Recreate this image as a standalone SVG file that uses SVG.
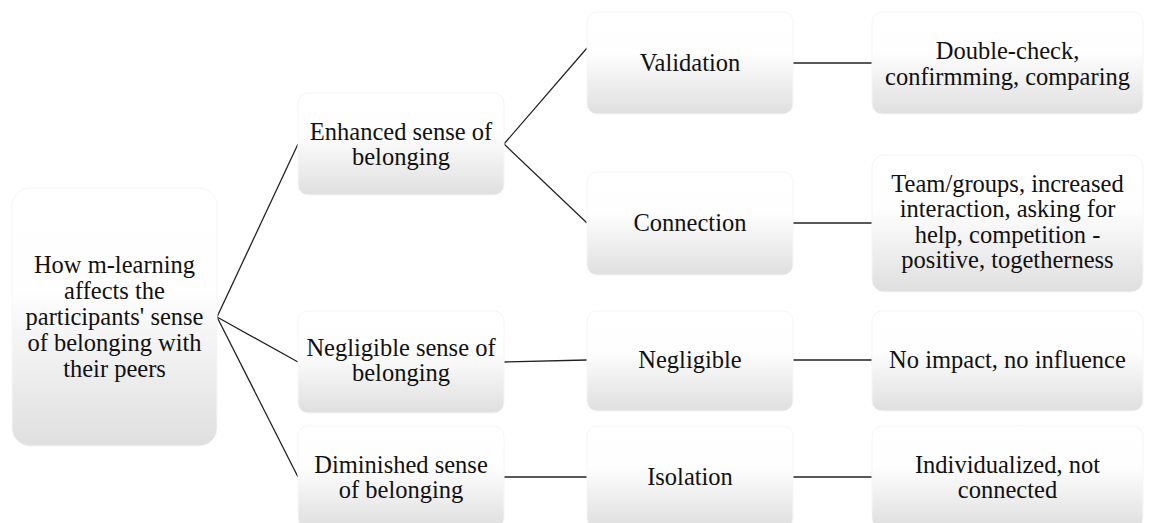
<svg xmlns="http://www.w3.org/2000/svg" width="1151" height="523" viewBox="0 0 1151 523">
<defs>
<linearGradient id="g" x1="0" y1="0" x2="0" y2="1">
<stop offset="0" stop-color="#ffffff"/>
<stop offset="0.4" stop-color="#fefefe"/>
<stop offset="1" stop-color="#dfdfdf"/>
</linearGradient>
</defs>
<style>
.box{fill:url(#g);stroke:#f6f6f6;stroke-width:1}
text{font-family:"Liberation Serif","Times New Roman",serif;font-size:24.5px;fill:#111;text-anchor:middle}
.c line{stroke:#222;stroke-width:1.3}
</style>
<rect width="1151" height="523" fill="#ffffff"/>
<g class="c" id="connectors">
<line x1="217" y1="317" x2="298" y2="144"/>
<line x1="217" y1="317" x2="298" y2="362"/>
<line x1="217" y1="317" x2="298" y2="477"/>
<line x1="504" y1="144" x2="587" y2="48"/>
<line x1="504" y1="144" x2="587" y2="223"/>
<line x1="793" y1="63" x2="872" y2="63"/>
<line x1="793" y1="223" x2="872" y2="223"/>
<line x1="504" y1="362" x2="587" y2="360"/>
<line x1="793" y1="360" x2="872" y2="360"/>
<line x1="504" y1="477" x2="587" y2="477"/>
<line x1="793" y1="477" x2="872" y2="477"/>
</g>
<g id="root">
<rect class="box" x="12" y="188" width="205" height="258" rx="18"/>
<text x="114.5" y="273">How m-learning</text>
<text x="114.5" y="299">affects the</text>
<text x="114.5" y="325">participants' sense</text>
<text x="114.5" y="351">of belonging with</text>
<text x="114.5" y="377">their peers</text>
</g>
<g id="enhanced">
<rect class="box" x="298" y="93" width="206" height="102" rx="10"/>
<text x="401" y="139.5">Enhanced sense of</text>
<text x="401" y="165">belonging</text>
</g>
<g id="negligible-sense">
<rect class="box" x="298" y="311" width="206" height="102" rx="10"/>
<text x="401" y="356">Negligible sense of</text>
<text x="401" y="381">belonging</text>
</g>
<g id="diminished">
<rect class="box" x="298" y="426" width="206" height="102" rx="10"/>
<text x="401" y="473">Diminished sense</text>
<text x="401" y="498">of belonging</text>
</g>
<g id="validation">
<rect class="box" x="587" y="12" width="206" height="102" rx="10"/>
<text x="690" y="71">Validation</text>
</g>
<g id="connection">
<rect class="box" x="587" y="172" width="206" height="103" rx="10"/>
<text x="690" y="231">Connection</text>
</g>
<g id="negligible">
<rect class="box" x="587" y="311" width="206" height="100" rx="10"/>
<text x="690" y="368">Negligible</text>
</g>
<g id="isolation">
<rect class="box" x="587" y="426" width="206" height="102" rx="10"/>
<text x="690" y="485">Isolation</text>
</g>
<g id="double-check">
<rect class="box" x="872" y="12" width="271" height="102" rx="10"/>
<text x="1007.5" y="58.5">Double-check,</text>
<text x="1007.5" y="84.5">confirmming, comparing</text>
</g>
<g id="team">
<rect class="box" x="872" y="155" width="271" height="137" rx="12"/>
<text x="1007.5" y="191.5">Team/groups, increased</text>
<text x="1007.5" y="217">interaction, asking for</text>
<text x="1007.5" y="242.5">help, competition -</text>
<text x="1007.5" y="268">positive, togetherness</text>
</g>
<g id="no-impact">
<rect class="box" x="872" y="311" width="271" height="100" rx="10"/>
<text x="1007.5" y="368">No impact, no influence</text>
</g>
<g id="individualized">
<rect class="box" x="872" y="426" width="271" height="102" rx="10"/>
<text x="1007.5" y="473">Individualized, not</text>
<text x="1007.5" y="498">connected</text>
</g>
</svg>
